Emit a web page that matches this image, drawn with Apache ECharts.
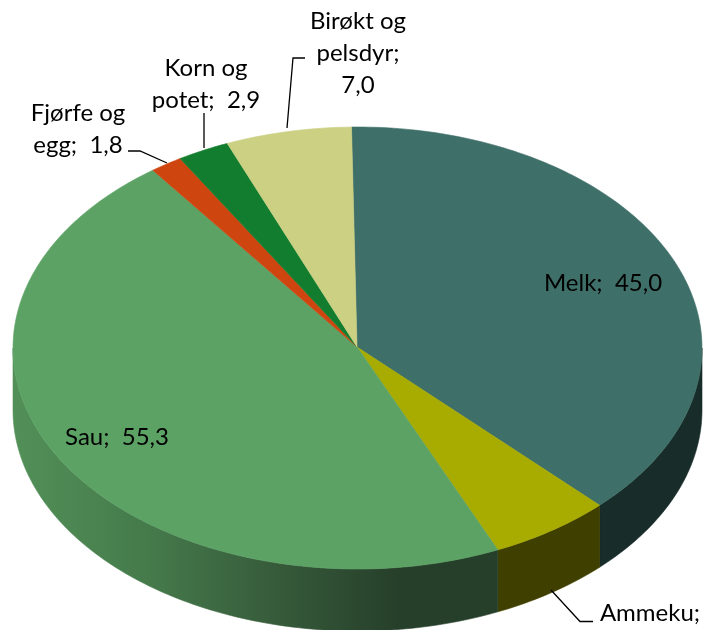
<!DOCTYPE html>
<html><head><meta charset="utf-8">
<script src="https://cdn.jsdelivr.net/npm/echarts@6/dist/echarts.min.js"></script>
<style>html,body{margin:0;padding:0;background:#fff}#c{width:704px;height:630px}</style>
</head><body><div id="c"></div>
<script>
const categories = ['Melk','Ammeku','Sau','Fjørfe og egg','Korn og potet','Birøkt og pelsdyr'];
const values = [45.0,6.8,55.3,1.8,2.9,7.0];
const labelLines = [['Melk;  45,0'],['Ammeku;'],['Sau;  55,3'],['Fjørfe og','egg;  1,8'],['Korn og','potet;  2,9'],['Birøkt og','pelsdyr;','7,0']];

const topColors = ['#3e6f68','#a8ab00','#5ca265','#cf450f','#127d2e','#cbd083'];
const wallColors = ['#182c2a','#3f4000',null,'#8a3010','#0c5420','#888c58'];
const sauWall = {type:'linear',x:13,y:0,x2:497,y2:0,global:true,colorStops:[
  {offset:0,color:'#529058'},{offset:.28,color:'#457a4b'},{offset:.55,color:'#365a3a'},{offset:.8,color:'#263f2a'},{offset:1,color:'#263f2a'}]};
const geo = {cx:357.5,cy:348,rx:344.5,ry:221,depth:62,start:-1,apexX:357,apexY:347};
const labelPos = [[603,283],[650,613],[117,437],[78,129],[206,84],[358,53]];
const leaders = [null,[[551,590],[580,621.5],[593,621.5]],null,[[167,163],[140,151],[128,151]],[[204,148],[204,113]],[[287,128],[293,58],[305,58]]];
const fontFamily = 'Lato, Carlito, sans-serif';
const fontSize = 24;

const total = values.reduce((a,b)=>a+b,0);
function pt(deg,dy){const r=deg*Math.PI/180;return [geo.cx+geo.rx*Math.sin(r),geo.cy-geo.ry*Math.cos(r)+(dy||0)];}
function arc(a,b,dy){const n=Math.max(2,Math.ceil(Math.abs(b-a))),o=[];for(let i=0;i<=n;i++)o.push(pt(a+(b-a)*i/n,dy));return o;}

function renderItem(params,api){
  const i=params.dataIndex;
  let sum=0;for(let k=0;k<i;k++)sum+=values[k];
  const a=geo.start+sum/total*360, b=a+api.value(1)/total*360;
  const kids=[];
  const wa=Math.max(a,90), wb=Math.min(b,270);
  if(wb>wa){
    const pts=arc(wa,wb,0).concat(arc(wa,wb,geo.depth).reverse());
    const f=wallColors[i]||sauWall;
    kids.push({type:'polygon',z2:1,shape:{points:pts},style:{fill:f,stroke:f,lineWidth:.6}});
  }
  kids.push({type:'polygon',z2:2+i*0.01,shape:{points:[[geo.apexX,geo.apexY]].concat(arc(a,b,0))},style:{fill:topColors[i],stroke:topColors[i],lineWidth:.6}});
  if(leaders[i])kids.push({type:'polyline',z2:3,shape:{points:leaders[i]},style:{stroke:'#000',lineWidth:1.3,fill:null}});
  kids.push({type:'text',z2:4,x:labelPos[i][0],y:labelPos[i][1],style:{text:labelLines[i].join('\n'),fill:'#000',align:'center',verticalAlign:'middle',lineHeight:32,font:fontSize+'px '+fontFamily}});
  return {type:'group',children:kids};
}
const chart=echarts.init(document.getElementById('c'),null,{renderer:'canvas'});
chart.setOption({animation:false,tooltip:{show:false},
  series:[{type:'custom',coordinateSystem:'none',renderItem:renderItem,clip:false,silent:true,
    data:categories.map((c,i)=>({name:c,value:[i,values[i]]}))}]});
</script></body></html>
